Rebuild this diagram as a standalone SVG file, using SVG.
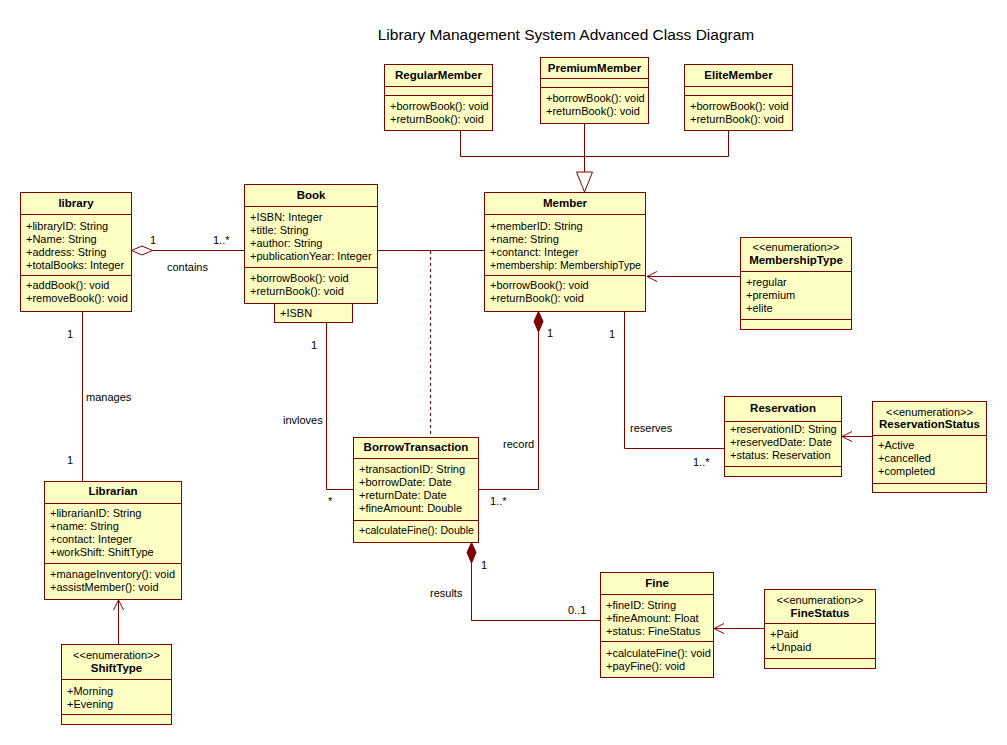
<svg xmlns="http://www.w3.org/2000/svg" width="1007" height="745" viewBox="0 0 1007 745">
<defs>
<style>
.bg{fill:#ffffff}
.box{fill:#FFFFC4;stroke:#800000;stroke-width:1}
.div{stroke:#800000;stroke-width:1}
.ln{stroke:#800000;stroke-width:1;fill:none}
.dash{stroke:#800000;stroke-width:1;fill:none;stroke-dasharray:3,3}
text{font-family:"Liberation Sans",Arial,sans-serif;font-size:11px;fill:#000}
.nm{font-weight:bold;font-size:11.5px;text-anchor:middle}
.st{text-anchor:middle}
.title{font-size:15.5px;text-anchor:middle}
</style>
</defs>
<rect class="bg" x="0" y="0" width="1007" height="745"/>
<text class="title" x="566" y="40">Library Management System Advanced Class Diagram</text>

<g id="connectors">
  <!-- generalization -->
  <polyline class="ln" points="460.5,131 460.5,156.5 728.5,156.5 728.5,131"/>
  <line class="ln" x1="584.5" y1="123" x2="584.5" y2="172"/>
  <polygon points="576.5,172 592.5,172 584.5,192" fill="#ffffff" stroke="#800000"/>
  <!-- library - Book aggregation -->
  <line class="ln" x1="152" y1="250.5" x2="244" y2="250.5"/>
  <polygon points="131.5,250.5 142,246 152.5,250.5 142,255" fill="#ffffff" stroke="#800000"/>
  <text x="150" y="244">1</text>
  <text x="213" y="244">1..*</text>
  <text x="167" y="271">contains</text>
  <!-- Book - Member association -->
  <line class="ln" x1="377" y1="250.5" x2="484" y2="250.5"/>
  <line class="dash" x1="430.5" y1="251" x2="430.5" y2="437"/>
  <!-- library - Librarian -->
  <line class="ln" x1="82.5" y1="311" x2="82.5" y2="481"/>
  <text x="67" y="338">1</text>
  <text x="86" y="401">manages</text>
  <text x="67" y="464">1</text>
  <!-- ShiftType -> Librarian -->
  <line class="ln" x1="118.5" y1="644" x2="118.5" y2="600"/>
  <polyline class="ln" points="113.5,610 118.5,600 123.5,610"/>
  <!-- Book(ISBN) - BorrowTransaction -->
  <polyline class="ln" points="326.5,322 326.5,489.5 353,489.5"/>
  <text x="311" y="349">1</text>
  <text x="283" y="424">invloves</text>
  <text x="328" y="505">*</text>
  <!-- Member - BorrowTransaction composition -->
  <polyline class="ln" points="538.5,332 538.5,489.5 478,489.5"/>
  <polygon points="538.5,311.5 543,321.5 538.5,332 534,321.5" fill="#800000" stroke="#800000"/>
  <text x="547" y="337">1</text>
  <text x="503" y="448">record</text>
  <text x="490" y="505">1..*</text>
  <!-- Member - Reservation -->
  <polyline class="ln" points="624.5,311 624.5,448.5 724,448.5"/>
  <text x="609" y="338">1</text>
  <text x="630" y="432">reserves</text>
  <text x="693" y="466">1..*</text>
  <!-- MembershipType -> Member -->
  <line class="ln" x1="740" y1="276.5" x2="647" y2="276.5"/>
  <polyline class="ln" points="657,271.5 647,276.5 657,281.5"/>
  <!-- ReservationStatus -> Reservation -->
  <line class="ln" x1="872" y1="436.5" x2="842" y2="436.5"/>
  <polyline class="ln" points="852,431.5 842,436.5 852,441.5"/>
  <!-- BorrowTransaction - Fine composition -->
  <polyline class="ln" points="471.5,563 471.5,620.5 600,620.5"/>
  <polygon points="471.5,542.5 476,552.5 471.5,563 467,552.5" fill="#800000" stroke="#800000"/>
  <text x="481" y="569">1</text>
  <text x="430" y="597">results</text>
  <text x="568" y="614">0..1</text>
  <!-- FineStatus -> Fine -->
  <line class="ln" x1="764" y1="628.5" x2="714" y2="628.5"/>
  <polyline class="ln" points="724,623.5 714,628.5 724,633.5"/>
</g>

<g id="RegularMember">
  <rect class="box" x="384.5" y="64.5" width="108" height="66"/>
  <line class="div" x1="384.5" y1="86.5" x2="492.5" y2="86.5"/>
  <line class="div" x1="384.5" y1="95.5" x2="492.5" y2="95.5"/>
  <text class="nm" x="438.5" y="79">RegularMember</text>
  <text x="390" y="110">+borrowBook(): void</text>
  <text x="390" y="123">+returnBook(): void</text>
</g>
<g id="PremiumMember">
  <rect class="box" x="540.5" y="57.5" width="108" height="66"/>
  <line class="div" x1="540.5" y1="78.5" x2="648.5" y2="78.5"/>
  <line class="div" x1="540.5" y1="87.5" x2="648.5" y2="87.5"/>
  <text class="nm" x="594.5" y="71.5">PremiumMember</text>
  <text x="546" y="102">+borrowBook(): void</text>
  <text x="546" y="115">+returnBook(): void</text>
</g>
<g id="EliteMember">
  <rect class="box" x="684.5" y="64.5" width="108" height="66"/>
  <line class="div" x1="684.5" y1="86.5" x2="792.5" y2="86.5"/>
  <line class="div" x1="684.5" y1="95.5" x2="792.5" y2="95.5"/>
  <text class="nm" x="738.5" y="79">EliteMember</text>
  <text x="690" y="110">+borrowBook(): void</text>
  <text x="690" y="123">+returnBook(): void</text>
</g>
<g id="library">
  <rect class="box" x="20.5" y="192.5" width="111" height="119"/>
  <line class="div" x1="20.5" y1="214.5" x2="131.5" y2="214.5"/>
  <line class="div" x1="20.5" y1="275.5" x2="131.5" y2="275.5"/>
  <text class="nm" x="76" y="207">library</text>
  <text x="26" y="229.5">+libraryID: String</text>
  <text x="26" y="242.5">+Name: String</text>
  <text x="26" y="255.5">+address: String</text>
  <text x="26" y="268.5">+totalBooks: Integer</text>
  <text x="26" y="289">+addBook(): void</text>
  <text x="26" y="302">+removeBook(): void</text>
</g>
<g id="Book">
  <rect class="box" x="244.5" y="184.5" width="133" height="119"/>
  <line class="div" x1="244.5" y1="206.5" x2="377.5" y2="206.5"/>
  <line class="div" x1="244.5" y1="267.5" x2="377.5" y2="267.5"/>
  <text class="nm" x="311" y="199">Book</text>
  <text x="250" y="221">+ISBN: Integer</text>
  <text x="250" y="234">+title: String</text>
  <text x="250" y="247">+author: String</text>
  <text x="250" y="260">+publicationYear: Integer</text>
  <text x="250" y="282">+borrowBook(): void</text>
  <text x="250" y="295">+returnBook(): void</text>
  <rect class="box" x="274.5" y="303.5" width="78" height="19"/>
  <text x="280" y="317">+ISBN</text>
</g>
<g id="Member">
  <rect class="box" x="484.5" y="192.5" width="161" height="119"/>
  <line class="div" x1="484.5" y1="214.5" x2="645.5" y2="214.5"/>
  <line class="div" x1="484.5" y1="275.5" x2="645.5" y2="275.5"/>
  <text class="nm" x="565" y="207">Member</text>
  <text x="490" y="229.5">+memberID: String</text>
  <text x="490" y="242.5">+name: String</text>
  <text x="490" y="255.5">+contanct: Integer</text>
  <text x="490" y="268.5" textLength="151" lengthAdjust="spacingAndGlyphs">+membership: MembershipType</text>
  <text x="490" y="289">+borrowBook(): void</text>
  <text x="490" y="302">+returnBook(): void</text>
</g>
<g id="MembershipType">
  <rect class="box" x="740.5" y="237.5" width="111" height="92"/>
  <line class="div" x1="740.5" y1="271.5" x2="851.5" y2="271.5"/>
  <line class="div" x1="740.5" y1="319.5" x2="851.5" y2="319.5"/>
  <text class="st" x="796" y="251">&lt;&lt;enumeration&gt;&gt;</text>
  <text class="nm" x="796" y="264">MembershipType</text>
  <text x="746" y="286">+regular</text>
  <text x="746" y="299">+premium</text>
  <text x="746" y="312">+elite</text>
</g>
<g id="Reservation">
  <rect class="box" x="724.5" y="396.5" width="117" height="80"/>
  <line class="div" x1="724.5" y1="421.5" x2="841.5" y2="421.5"/>
  <line class="div" x1="724.5" y1="466.5" x2="841.5" y2="466.5"/>
  <text class="nm" x="783" y="412">Reservation</text>
  <text x="730" y="433">+reservationID: String</text>
  <text x="730" y="446">+reservedDate: Date</text>
  <text x="730" y="458.5">+status: Reservation</text>
</g>
<g id="ReservationStatus">
  <rect class="box" x="872.5" y="401.5" width="114" height="91"/>
  <line class="div" x1="872.5" y1="435.5" x2="986.5" y2="435.5"/>
  <line class="div" x1="872.5" y1="483.5" x2="986.5" y2="483.5"/>
  <text class="st" x="929.5" y="415.5">&lt;&lt;enumeration&gt;&gt;</text>
  <text class="nm" x="929.5" y="428">ReservationStatus</text>
  <text x="878" y="449">+Active</text>
  <text x="878" y="462">+cancelled</text>
  <text x="878" y="475">+completed</text>
</g>
<g id="BorrowTransaction">
  <rect class="box" x="353.5" y="437.5" width="125" height="105"/>
  <line class="div" x1="353.5" y1="458.5" x2="478.5" y2="458.5"/>
  <line class="div" x1="353.5" y1="520.5" x2="478.5" y2="520.5"/>
  <text class="nm" x="416" y="451">BorrowTransaction</text>
  <text x="359" y="473">+transactionID: String</text>
  <text x="359" y="486">+borrowDate: Date</text>
  <text x="359" y="499">+returnDate: Date</text>
  <text x="359" y="512">+fineAmount: Double</text>
  <text x="359" y="534" textLength="115" lengthAdjust="spacingAndGlyphs">+calculateFine(): Double</text>
</g>
<g id="Librarian">
  <rect class="box" x="44.5" y="481.5" width="137" height="118"/>
  <line class="div" x1="44.5" y1="503.5" x2="181.5" y2="503.5"/>
  <line class="div" x1="44.5" y1="563.5" x2="181.5" y2="563.5"/>
  <text class="nm" x="113" y="495">Librarian</text>
  <text x="50" y="517">+librarianID: String</text>
  <text x="50" y="530">+name: String</text>
  <text x="50" y="543">+contact: Integer</text>
  <text x="50" y="556">+workShift: ShiftType</text>
  <text x="50" y="578">+manageInventory(): void</text>
  <text x="50" y="591">+assistMember(): void</text>
</g>
<g id="ShiftType">
  <rect class="box" x="61.5" y="644.5" width="110" height="80"/>
  <line class="div" x1="61.5" y1="679.5" x2="171.5" y2="679.5"/>
  <line class="div" x1="61.5" y1="714.5" x2="171.5" y2="714.5"/>
  <text class="st" x="116.5" y="659">&lt;&lt;enumeration&gt;&gt;</text>
  <text class="nm" x="116.5" y="672">ShiftType</text>
  <text x="67" y="695">+Morning</text>
  <text x="67" y="707.5">+Evening</text>
</g>
<g id="Fine">
  <rect class="box" x="600.5" y="572.5" width="113" height="105"/>
  <line class="div" x1="600.5" y1="594.5" x2="713.5" y2="594.5"/>
  <line class="div" x1="600.5" y1="641.5" x2="713.5" y2="641.5"/>
  <text class="nm" x="657" y="587">Fine</text>
  <text x="606" y="609">+fineID: String</text>
  <text x="606" y="622">+fineAmount: Float</text>
  <text x="606" y="635">+status: FineStatus</text>
  <text x="606" y="657">+calculateFine(): void</text>
  <text x="606" y="670">+payFine(): void</text>
</g>
<g id="FineStatus">
  <rect class="box" x="764.5" y="589.5" width="111" height="79"/>
  <line class="div" x1="764.5" y1="623.5" x2="875.5" y2="623.5"/>
  <line class="div" x1="764.5" y1="658.5" x2="875.5" y2="658.5"/>
  <text class="st" x="820" y="604">&lt;&lt;enumeration&gt;&gt;</text>
  <text class="nm" x="820" y="617">FineStatus</text>
  <text x="770" y="638">+Paid</text>
  <text x="770" y="651">+Unpaid</text>
</g>
</svg>
